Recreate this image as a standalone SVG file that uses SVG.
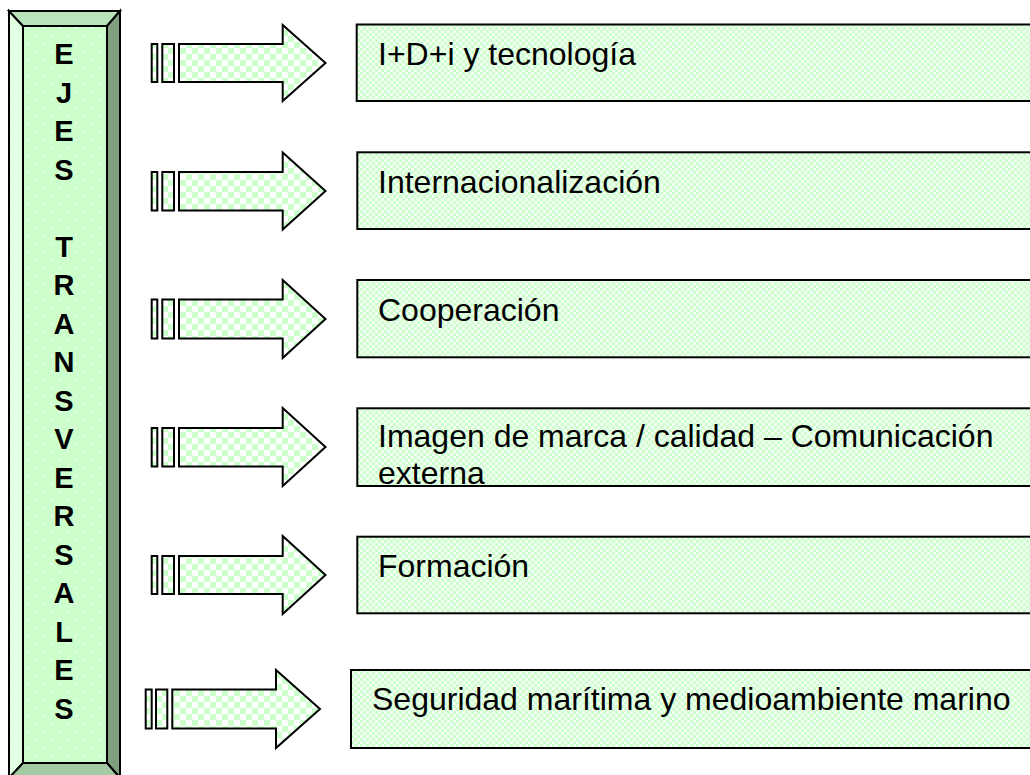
<svg xmlns="http://www.w3.org/2000/svg" width="1030" height="775" viewBox="0 0 1030 775">
<defs>
<pattern id="chk" width="12" height="12" patternUnits="userSpaceOnUse">
<rect width="12" height="12" fill="#ffffff"/>
<rect width="6" height="6" fill="#ccffcc"/>
<rect x="6" y="6" width="6" height="6" fill="#ccffcc"/>
</pattern>
<pattern id="chks" width="6" height="6" patternUnits="userSpaceOnUse">
<rect width="6" height="6" fill="#f2fff2"/>
<rect width="3" height="3" fill="#ccffcc"/>
<rect x="3" y="3" width="3" height="3" fill="#ccffcc"/>
</pattern>
<pattern id="dots" width="16" height="16" patternUnits="userSpaceOnUse">
<rect width="16" height="16" fill="#ccffcc"/>
<rect x="3" y="3" width="1.5" height="1.5" fill="#ffffff"/>
<rect x="11" y="11" width="1.5" height="1.5" fill="#ffffff"/>
</pattern>
<pattern id="dotsL" width="16" height="16" patternUnits="userSpaceOnUse">
<rect width="16" height="16" fill="#e2ffe2"/>
<rect x="3" y="3" width="1.5" height="1.5" fill="#ffffff"/>
<rect x="11" y="11" width="1.5" height="1.5" fill="#ffffff"/>
</pattern>
</defs>
<style>
.arr{fill:url(#chk);stroke:#000;stroke-width:2;stroke-linejoin:miter}
.box{fill:url(#chks);stroke:#000;stroke-width:2}
.lbl{font-family:"Liberation Sans",Arial,sans-serif;font-size:32px;fill:#000}
.v{font-family:"Liberation Sans",Arial,sans-serif;font-size:29px;font-weight:bold;fill:#000;text-anchor:middle}
.bev{stroke:#000;stroke-width:2;stroke-linejoin:miter}
</style>

<g id="ejes">
<polygon class="bev" points="9,11 23,26 23,763 9,778" fill="url(#dotsL)"/>
<polygon class="bev" points="9,11 120,11 107,26 23,26" fill="#b9e3b9"/>
<polygon class="bev" points="120,11 120,778 107,763 107,26" fill="#7f9f7f"/>
<polygon class="bev" points="9,778 23,763 107,763 120,778" fill="#a3caa3"/>
<rect class="bev" x="23" y="26" width="84" height="737" fill="url(#dots)"/>
<text class="v" x="64" y="64">E</text>
<text class="v" x="64" y="102.5">J</text>
<text class="v" x="64" y="141">E</text>
<text class="v" x="64" y="179.5">S</text>
<text class="v" x="64" y="256.5">T</text>
<text class="v" x="64" y="295">R</text>
<text class="v" x="64" y="333.5">A</text>
<text class="v" x="64" y="372">N</text>
<text class="v" x="64" y="410.5">S</text>
<text class="v" x="64" y="449">V</text>
<text class="v" x="64" y="487.5">E</text>
<text class="v" x="64" y="526">R</text>
<text class="v" x="64" y="564.5">S</text>
<text class="v" x="64" y="603">A</text>
<text class="v" x="64" y="641.5">L</text>
<text class="v" x="64" y="680">E</text>
<text class="v" x="64" y="718.5">S</text>
</g>

<g id="connectors">
<g id="arrow1">
<rect class="arr" x="151.7" y="44" width="5.6" height="38"/>
<rect class="arr" x="162.3" y="44" width="11.7" height="38"/>
<polygon class="arr" points="179,44 282.7,44 282.7,25 325.5,63 282.7,101 282.7,82 179,82"/>
</g>
<g id="arrow2">
<rect class="arr" x="151.7" y="172" width="5.6" height="38.5"/>
<rect class="arr" x="162.3" y="172" width="11.7" height="38.5"/>
<polygon class="arr" points="179,172 282.7,172 282.7,152.5 325.5,191 282.7,229.5 282.7,210.5 179,210.5"/>
</g>
<g id="arrow3">
<rect class="arr" x="151.7" y="299.5" width="5.6" height="39"/>
<rect class="arr" x="162.3" y="299.5" width="11.7" height="39"/>
<polygon class="arr" points="179,299.5 282.7,299.5 282.7,280 325.5,319 282.7,358 282.7,338.5 179,338.5"/>
</g>
<g id="arrow4">
<rect class="arr" x="151.7" y="428" width="5.6" height="38.5"/>
<rect class="arr" x="162.3" y="428" width="11.7" height="38.5"/>
<polygon class="arr" points="179,428 282.7,428 282.7,408 325.5,447 282.7,486 282.7,466.5 179,466.5"/>
</g>
<g id="arrow5">
<rect class="arr" x="151.7" y="556" width="5.6" height="38"/>
<rect class="arr" x="162.3" y="556" width="11.7" height="38"/>
<polygon class="arr" points="179,556 282.7,556 282.7,536 325.5,575 282.7,614 282.7,594 179,594"/>
</g>
<g id="arrow6">
<rect class="arr" x="145.7" y="689.5" width="6" height="39"/>
<rect class="arr" x="156" y="689.5" width="11.3" height="39"/>
<polygon class="arr" points="172.3,689.5 276,689.5 276,670 320,709 276,748 276,728.5 172.3,728.5"/>
</g>
</g>

<g id="box1">
<rect class="box" x="356.7" y="24.5" width="690" height="76.5"/>
<text class="lbl" x="378" y="65">I+D+i y tecnología</text>
</g>
<g id="box2">
<rect class="box" x="357.3" y="152.3" width="690" height="76.7"/>
<text class="lbl" x="378" y="193">Internacionalización</text>
</g>
<g id="box3">
<rect class="box" x="357.3" y="280" width="690" height="77.3"/>
<text class="lbl" x="378" y="320.5">Cooperación</text>
</g>
<g id="box4">
<rect class="box" x="357.3" y="408.3" width="690" height="77.7"/>
<text class="lbl" x="378" y="447">Imagen de marca / calidad – Comunicación</text>
<text class="lbl" x="378" y="484">externa</text>
</g>
<g id="box5">
<rect class="box" x="357.3" y="536.7" width="690" height="76.6"/>
<text class="lbl" x="378" y="577">Formación</text>
</g>
<g id="box6">
<rect class="box" x="351" y="670" width="696" height="78"/>
<text class="lbl" x="372" y="710">Seguridad marítima y medioambiente marino</text>
</g>
</svg>
